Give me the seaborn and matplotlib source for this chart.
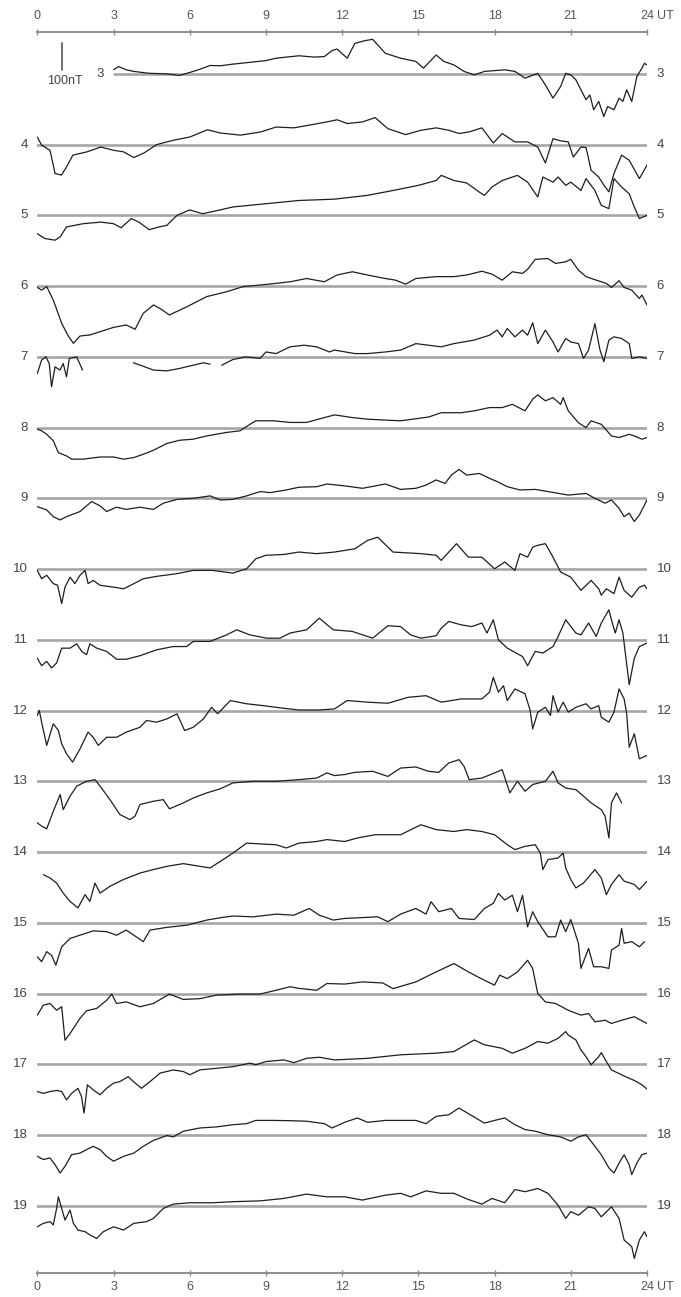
import numpy as np
import pandas as pd
import matplotlib
matplotlib.use("Agg")
import matplotlib.pyplot as plt
import seaborn as sns

nan = np.nan

# ---------------- data (deviation from daily baseline, nT; time in UT hours) ----------------
T3 = [3.0, 3.2, 3.5, 3.8, 4.4, 5.1, 5.6, 6.0, 6.4, 6.8, 7.2, 7.7, 8.4, 9.0, 9.4, 9.8, 10.3, 10.9, 11.3, 11.6,
      11.8, 12.2, 12.5, 12.9, 13.2, 13.7, 14.3, 14.9, 15.2, 15.7, 16.0, 16.4, 16.8, 17.2, 17.6, 18.4, 18.8, 19.2,
      19.7, 20.0, 20.3, 20.6, 20.8, 21.0, 21.2, 21.6, 21.75, 21.9, 22.1, 22.3, 22.45, 22.7, 22.9, 23.05, 23.2,
      23.4, 23.6, 23.8, 23.9, 24.0]
V3 = [15, 27, 15, 9, 2, 0, -6, 5, 17, 31, 30, 36, 43, 49, 58, 62, 67, 62, 64, 86,
      92, 58, 113, 123, 128, 76, 58, 46, 21, 70, 46, 33, 9, -4, 9, 15, 9, -16,
      2, -41, -90, -47, 2, -4, -22, -96, -78, -133, -102, -158, -121, -133, -90, -102, -59,
      -102, -10, 21, 39, 33]

T4 = [0, 0.17, 0.5, 0.7, 0.95, 1.15, 1.4, 1.95, 2.5, 3.0, 3.4, 3.8, 4.2, 4.7, 5.35, 6.0, 6.7, 7.2, 8.0, 8.8,
      9.4, 10.1, 10.7, 11.4, 11.8, 12.2, 12.8, 13.3, 13.8, 14.5, 15.1, 15.7, 16.2, 16.6, 17.0, 17.5, 17.95, 18.3,
      18.8, 19.3, 19.7, 20.0, 20.3, 20.6, 20.9, 21.1, 21.4, 21.6, 21.8, 22.1, 22.3, 22.5, 22.7, 23.0, 23.3, 23.7, 24.0]
V4 = [28, -2, -21, -107, -113, -83, -39, -27, -9, -21, -27, -48, -31, 0, 16, 28, 55, 43, 35, 47,
      65, 62, 72, 84, 92, 78, 84, 100, 59, 37, 53, 62, 53, 41, 47, 62, 6, 41,
      10, 10, -9, -68, 22, 14, 10, -46, -9, -11, -95, -120, -150, -175, -107, -39, -58, -126, -76]

T5 = [0, 0.3, 0.7, 0.9, 1.15, 1.8, 2.5, 3.0, 3.3, 3.7, 4.0, 4.4, 4.8, 5.1, 5.5, 6.0, 6.5, 7.1, 7.7, 9.0,
      10.3, 11.7, 13.0, 14.0, 15.0, 15.7, 15.9, 16.4, 16.9, 17.4, 17.6, 17.9, 18.3, 18.9, 19.3, 19.7, 19.9, 20.3,
      20.5, 20.8, 21.0, 21.4, 21.6, 21.95, 22.2, 22.5, 22.7, 23.0, 23.3, 23.5, 23.7, 24.0]
V5 = [-68, -86, -92, -80, -43, -31, -25, -31, -46, -12, -25, -53, -43, -37, 0, 20, 6, 18, 31, 43,
      55, 60, 74, 92, 111, 129, 148, 129, 120, 86, 74, 105, 129, 148, 123, 68, 142, 123,
      142, 111, 123, 92, 136, 92, 37, 25, 136, 105, 80, 31, -12, 0]

T6 = [0, 0.17, 0.37, 0.63, 0.96, 1.22, 1.42, 1.68, 2.07, 2.47, 3.0, 3.5, 3.85, 4.17, 4.57, 4.83, 5.2, 5.9, 6.67,
      7.45, 8.1, 8.77, 9.4, 9.95, 10.6, 11.3, 11.8, 12.4, 13.0, 13.7, 14.1, 14.5, 14.9, 15.7, 16.4, 16.9, 17.5,
      17.9, 18.3, 18.7, 19.1, 19.3, 19.6, 20.1, 20.4, 20.8, 21.0, 21.3, 21.6, 22.0, 22.4, 22.6, 22.9, 23.1, 23.4,
      23.7, 23.8, 24.0]
V6 = [-5, -15, -2, -52, -138, -185, -212, -185, -181, -169, -153, -144, -160, -101, -70, -83, -107, -76, -39,
      -21, -2, 4, 10, 16, 28, 16, 41, 53, 41, 28, 22, 7, 28, 35, 35, 41, 55,
      44, 22, 53, 47, 62, 99, 102, 84, 90, 99, 59, 35, 22, 10, -5, 20, -5, -15,
      -46, -33, -70]

T7 = [0, 0.17, 0.34, 0.47, 0.56, 0.7, 0.89, 1.02, 1.15, 1.26, 1.55, 1.78, nan,
      3.78, 4.17, 4.57, 5.1, 5.6, 6.14, 6.54, 6.8, nan,
      7.26, 7.7, 8.2, 8.77, 9.0, 9.4, 9.95, 10.5, 11.0, 11.5, 11.7, 12.5, 13.0, 13.7, 14.3, 14.9, 15.4, 15.9,
      16.4, 17.2, 17.8, 18.1, 18.3, 18.5, 18.8, 19.1, 19.3, 19.5, 19.7, 20.0, 20.3, 20.5, 20.8, 21.0, 21.3,
      21.5, 21.7, 21.95, 22.15, 22.3, 22.5, 22.7, 23.0, 23.3, 23.4, 23.7, 24.0]
V7 = [-62, -12, 0, -25, -111, -37, -49, -25, -74, -6, 0, -49, nan,
      -22, -35, -49, -52, -43, -31, -22, -27, nan,
      -31, -10, 0, -6, 18, 12, 37, 43, 37, 18, 25, 12, 12, 18, 25, 49, 43, 37,
      49, 62, 80, 99, 74, 105, 74, 99, 80, 126, 49, 99, 55, 18, 68, 55, 49,
      -6, 25, 123, 25, -18, 62, 74, 68, 49, -6, 0, -6]

T8 = [0, 0.17, 0.37, 0.63, 0.83, 1.15, 1.35, 1.8, 2.47, 3.0, 3.4, 3.8, 4.17, 4.57, 5.1, 5.6, 6.14, 6.67, 7.45,
      7.98, 8.37, 8.6, 9.3, 9.95, 10.6, 11.3, 11.7, 12.4, 13.0, 14.3, 15.4, 15.9, 16.7, 17.2, 17.8, 18.3, 18.7,
      19.2, 19.5, 19.7, 20.0, 20.3, 20.6, 20.7, 20.9, 21.3, 21.6, 21.8, 22.2, 22.6, 22.9, 23.3, 23.5, 23.8, 24.0]
V8 = [-6, -12, -25, -49, -93, -105, -117, -117, -109, -109, -117, -111, -99, -84, -59, -47, -43, -31, -18,
      -12, 12, 25, 25, 19, 19, 37, 47, 37, 31, 25, 39, 55, 55, 62, 74, 74, 86,
      62, 105, 121, 99, 111, 86, 111, 62, 18, 0, 25, 12, -31, -37, -25, -31, -43, -37]

T9 = [0, 0.37, 0.63, 0.9, 1.15, 1.68, 2.14, 2.47, 2.73, 3.12, 3.5, 4.04, 4.57, 4.96, 5.5, 6.14, 6.8, 7.2, 7.7,
      8.24, 8.77, 9.16, 9.8, 10.3, 11.0, 11.4, 12.1, 12.8, 13.7, 14.3, 14.9, 15.3, 15.7, 16.05, 16.3, 16.6, 16.9,
      17.4, 17.8, 18.1, 18.5, 19.0, 19.6, 20.1, 20.9, 21.6, 21.95, 22.35, 22.6, 22.9, 23.1, 23.3, 23.5, 23.7, 24.0]
V9 = [-31, -43, -68, -80, -68, -49, -12, -28, -49, -33, -41, -33, -41, -18, -4, 0, 9, -6, -4,
      9, 25, 21, 31, 41, 43, 53, 46, 37, 53, 33, 37, 49, 68, 55, 86, 107, 86,
      92, 74, 62, 43, 31, 33, 25, 12, 18, 0, -18, -6, -37, -68, -55, -86, -62, -6]

T10 = [0, 0.17, 0.37, 0.63, 0.8, 0.96, 1.09, 1.29, 1.48, 1.68, 1.88, 2.0, 2.2, 2.47, 3.0, 3.4, 3.8, 4.17, 4.7,
       5.5, 6.14, 6.9, 7.7, 8.24, 8.6, 9.0, 9.7, 10.3, 11.0, 11.7, 12.5, 13.0, 13.4, 14.0, 15.1, 15.7, 15.9, 16.2,
       16.5, 16.97, 17.5, 18.0, 18.4, 18.8, 19.0, 19.3, 19.5, 19.7, 20.0, 20.3, 20.6, 21.0, 21.4, 21.8, 22.1,
       22.2, 22.4, 22.7, 22.9, 23.1, 23.4, 23.7, 23.9, 24.0]
V10 = [-5, -36, -23, -54, -60, -128, -67, -30, -54, -23, -5, -54, -42, -60, -67, -73, -54, -36, -27,
       -17, -5, -5, -15, 1, 38, 51, 54, 63, 57, 63, 75, 106, 118, 63, 57, 51, 32, 63,
       94, 44, 44, 1, 26, -5, 57, 44, 81, 88, 94, 44, -11, -30, -79, -42, -73,
       -97, -73, -91, -30, -79, -104, -67, -60, -73]

T11 = [0, 0.17, 0.37, 0.56, 0.76, 0.96, 1.29, 1.55, 1.75, 1.94, 2.07, 2.34, 2.73, 3.12, 3.5, 4.04, 4.7, 5.35,
       5.88, 6.14, 6.8, 7.45, 7.85, 8.37, 9.03, 9.55, 9.95, 10.6, 11.1, 11.65, 12.4, 13.2, 13.8, 14.3, 14.7, 15.1,
       15.7, 15.9, 16.2, 16.7, 17.1, 17.5, 17.7, 17.95, 18.15, 18.5, 19.1, 19.3, 19.6, 19.9, 20.3, 20.5, 20.8,
       21.2, 21.4, 21.7, 22.0, 22.2, 22.5, 22.6, 22.75, 22.9, 23.05, 23.3, 23.5, 23.7, 24.0]
V11 = [-68, -96, -80, -104, -86, -31, -31, -15, -43, -55, -15, -31, -43, -72, -72, -59, -37, -25,
       -25, -6, -6, 18, 37, 18, 6, 6, 25, 37, 80, 37, 31, 6, 52, 49, 18, 6,
       15, 43, 68, 55, 49, 62, 25, 74, 0, -31, -62, -96, -43, -49, -25, 12, 74,
       25, 18, 62, 12, 62, 111, 74, 25, 74, 25, -166, -68, -25, -12]

T12 = [0, 0.08, 0.17, 0.37, 0.63, 0.83, 0.96, 1.15, 1.39, 1.68, 2.0, 2.2, 2.4, 2.73, 3.12, 3.5, 4.04, 4.3, 4.7,
       5.1, 5.5, 5.65, 5.8, 6.14, 6.54, 6.86, 7.1, 7.6, 8.24, 8.9, 9.55, 10.3, 11.1, 11.7, 12.2, 13.0, 13.8, 14.6,
       15.3, 15.9, 16.7, 17.5, 17.8, 17.95, 18.15, 18.35, 18.5, 18.8, 19.2, 19.4, 19.5, 19.7, 20.0, 20.2, 20.3,
       20.5, 20.7, 20.9, 21.2, 21.6, 21.8, 22.1, 22.2, 22.5, 22.7, 22.9, 23.1, 23.2, 23.3, 23.5, 23.7, 24.0]
V12 = [-18, 0, -43, -129, -49, -74, -123, -160, -191, -142, -80, -99, -129, -99, -99, -80, -62, -37, -43,
       -31, -12, -43, -74, -62, -31, 12, -12, 37, 25, 18, 10, 2, 2, 6, 37, 31, 27, 49,
       55, 31, 43, 43, 68, 123, 68, 92, 37, 80, 62, 0, -68, -6, 12, -18, 55,
       -6, 31, -6, 12, 25, 6, 18, -25, -43, -6, 80, 43, -12, -136, -86, -179, -166]

T13 = [0, 0.17, 0.37, 0.63, 0.9, 1.02, 1.29, 1.55, 1.94, 2.27, 2.47, 2.86, 3.25, 3.65, 3.85, 4.04, 4.57, 4.96,
       5.2, 5.75, 6.14, 6.67, 7.2, 7.7, 8.5, 9.4, 10.3, 11.0, 11.4, 11.7, 12.1, 12.5, 13.2, 13.8, 14.3, 14.9, 15.4,
       15.8, 16.2, 16.6, 16.8, 17.0, 17.5, 18.0, 18.3, 18.6, 18.9, 19.2, 19.5, 20.0, 20.3, 20.5, 20.8, 21.2, 21.5,
       21.8, 22.2, 22.35, 22.5, 22.6, 22.8, 23.0]
V13 = [-154, -166, -176, -111, -49, -105, -55, -18, 0, 6, -18, -68, -123, -142, -129, -86, -74, -68,
       -102, -80, -62, -43, -28, -6, 0, 0, 6, 12, 31, 21, 25, 33, 37, 18, 49, 53, 37,
       33, 68, 80, 55, 6, 12, 31, 43, -43, 0, -37, -12, 0, 37, -6, -25, -31, -55,
       -80, -105, -129, -210, -80, -43, -80]

T14 = [0.24, 0.5, 0.76, 1.02, 1.29, 1.6, 1.88, 2.07, 2.27, 2.47, 2.86, 3.39, 4.04, 4.57, 5.1, 5.75, 6.4, 6.8,
       7.2, 7.7, 8.24, 8.77, 9.4, 9.8, 10.3, 11.0, 11.4, 12.1, 12.6, 13.3, 14.3, 15.1, 15.7, 16.4, 16.9, 17.5,
       18.0, 18.5, 18.8, 19.2, 19.6, 19.8, 19.9, 20.1, 20.5, 20.7, 20.8, 21.0, 21.2, 21.5, 21.95, 22.2, 22.4,
       22.6, 22.9, 23.1, 23.5, 23.7, 24.0]
V14 = [-84, -96, -115, -152, -183, -207, -158, -183, -115, -152, -127, -102, -78, -65, -53, -43, -53, -59,
       -35, -4, 33, 30, 27, 15, 33, 39, 46, 39, 52, 64, 64, 101, 83, 76, 83, 76,
       64, 27, 9, 21, 27, -4, -65, -28, -22, -4, -59, -102, -133, -115, -65, -96, -158,
       -120, -84, -108, -120, -139, -108]

T15 = [0, 0.17, 0.37, 0.56, 0.73, 0.96, 1.29, 1.68, 2.2, 2.73, 3.12, 3.5, 3.8, 4.17, 4.44, 5.1, 5.88, 6.67,
       7.3, 7.7, 8.5, 9.4, 10.1, 10.7, 11.1, 11.65, 12.1, 13.4, 13.8, 14.3, 14.9, 15.3, 15.5, 15.8, 16.3, 16.6,
       17.2, 17.6, 17.95, 18.15, 18.4, 18.7, 18.9, 19.1, 19.3, 19.5, 19.7, 20.1, 20.4, 20.6, 20.8, 21.0, 21.3,
       21.4, 21.7, 21.9, 22.2, 22.5, 22.6, 22.9, 23.0, 23.1, 23.4, 23.7, 23.9]
V15 = [-126, -144, -107, -120, -157, -89, -58, -46, -30, -33, -46, -27, -46, -70, -27, -17, -9, 10,
       20, 25, 22, 32, 28, 53, 28, 10, 16, 22, 4, 32, 53, 32, 78, 41, 53, 16,
       12, 53, 72, 109, 84, 102, 41, 102, -15, 41, 4, -52, -52, 10, -33, 12, -76,
       -169, -95, -163, -163, -169, -101, -83, -21, -76, -70, -89, -70]

T16 = [0, 0.24, 0.5, 0.76, 0.96, 1.09, 1.29, 1.68, 1.94, 2.34, 2.73, 2.93, 3.12, 3.5, 4.04, 4.57, 5.2, 5.75,
       6.4, 7.06, 7.98, 8.77, 9.4, 9.95, 10.3, 11.0, 11.4, 12.1, 12.8, 13.6, 14.0, 14.9, 15.7, 16.4, 16.97, 17.6,
       18.0, 18.2, 18.5, 18.9, 19.3, 19.5, 19.7, 20.0, 20.4, 20.9, 21.4, 21.7, 21.95, 22.35, 22.6, 23.0, 23.5, 24.0]
V16 = [-80, -43, -37, -62, -49, -173, -148, -92, -64, -55, -25, -2, -37, -31, -49, -37, -2, -22,
       -19, -6, -2, -2, 12, 25, 19, 12, 37, 35, 43, 39, 18, 43, 80, 111, 80, 49,
       31, 68, 55, 80, 123, 92, 0, -31, -37, -62, -80, -74, -105, -99, -111, -99, -86, -111]

T17 = [0, 0.24, 0.5, 0.76, 0.96, 1.15, 1.35, 1.6, 1.74, 1.84, 1.97, 2.2, 2.47, 2.73, 3.0, 3.25, 3.58, 3.78,
       4.1, 4.44, 4.83, 5.35, 5.75, 6.0, 6.4, 7.06, 7.7, 8.37, 8.6, 9.0, 9.7, 10.1, 10.6, 11.1, 11.7, 13.0, 14.3,
       15.7, 16.4, 17.2, 17.6, 18.3, 18.7, 19.2, 19.7, 20.1, 20.5, 20.8, 20.9, 21.2, 21.4, 21.6, 21.8, 22.1, 22.2,
       22.4, 22.6, 23.0, 23.3, 23.5, 23.8, 24.0]
V17 = [-101, -108, -101, -97, -101, -132, -108, -89, -120, -181, -76, -95, -113, -89, -70, -64, -46, -64,
       -89, -64, -33, -21, -27, -39, -21, -15, -9, 4, -2, 10, 16, 6, 22, 26, 16, 22, 35,
       41, 47, 90, 72, 59, 41, 59, 84, 78, 96, 121, 108, 90, 53, 28, -2, 28, 43,
       10, -21, -39, -52, -60, -76, -92]

T18 = [0, 0.24, 0.5, 0.7, 0.9, 1.09, 1.35, 1.68, 1.94, 2.2, 2.47, 2.73, 3.0, 3.4, 3.8, 4.17, 4.57, 5.1, 5.35,
       5.75, 6.4, 7.06, 7.7, 8.24, 8.6, 9.3, 9.95, 10.6, 11.3, 11.6, 12.1, 12.6, 13.0, 13.7, 14.3, 14.9, 15.3,
       15.7, 16.2, 16.6, 16.97, 17.6, 18.0, 18.4, 18.8, 19.2, 19.6, 20.1, 20.6, 21.0, 21.3, 21.6, 21.95, 22.2,
       22.5, 22.7, 22.9, 23.1, 23.3, 23.4, 23.6, 23.8, 24.0]
V18 = [-79, -91, -85, -110, -141, -116, -73, -67, -54, -42, -54, -79, -97, -79, -67, -42, -20, -2, -7,
       14, 26, 30, 38, 42, 54, 54, 53, 51, 42, 26, 47, 63, 47, 54, 54, 54, 42,
       69, 75, 100, 79, 44, 54, 63, 38, 20, 14, 1, -7, -23, -7, 1, -42, -73,
       -122, -141, -104, -73, -110, -147, -104, -73, -67]

T19 = [0, 0.24, 0.5, 0.63, 0.76, 0.83, 0.96, 1.09, 1.29, 1.42, 1.6, 1.88, 2.07, 2.34, 2.6, 3.0, 3.4, 3.8, 4.3,
       4.57, 4.96, 5.35, 6.0, 6.9, 7.7, 8.77, 9.7, 10.6, 11.4, 12.1, 12.8, 13.7, 14.3, 14.7, 15.3, 15.9, 16.4,
       16.97, 17.5, 17.9, 18.4, 18.8, 19.2, 19.7, 20.1, 20.5, 20.8, 21.0, 21.3, 21.7, 21.95, 22.2, 22.6, 22.9,
       23.1, 23.4, 23.5, 23.7, 23.9, 24.0]
V19 = [-78, -65, -59, -71, -10, 33, -10, -53, -16, -65, -90, -96, -108, -121, -96, -78, -90, -65, -59,
       -47, -10, 6, 11, 11, 15, 18, 27, 43, 33, 33, 21, 39, 46, 33, 55, 46, 46,
       23, 6, 27, 11, 60, 52, 64, 46, 2, -47, -22, -35, -4, -10, -41, -4, -47,
       -127, -152, -195, -127, -96, -115]

DAYS = list(range(3, 20))
TIMES = [T3, T4, T5, T6, T7, T8, T9, T10, T11, T12, T13, T14, T15, T16, T17, T18, T19]
VALUES = [V3, V4, V5, V6, V7, V8, V9, V10, V11, V12, V13, V14, V15, V16, V17, V18, V19]
BASE_START = [3] + [0] * 16          # baseline of day 3 starts at 03 UT
HOUR_TICKS = [0, 3, 6, 9, 12, 15, 18, 21, 24]
SCALE_NT = 100

# ---------------- layout ----------------
SPACING = 262.0       # nT between daily baselines
W, H = 681, 1297
sns.set_theme(style="white")
plt.rcParams["font.family"] = ["Liberation Sans", "DejaVu Sans"]

fig = plt.figure(figsize=(W / 100, H / 100), dpi=100)
ax = fig.add_axes([37.3 / W, (H - 1272.7) / H, 609.7 / W, 1240.7 / H])

rows = []
seg = 0
for d, ts, vs in zip(DAYS, TIMES, VALUES):
    off = -(d - 3) * SPACING
    for t, v in zip(ts, vs):
        if np.isnan(t):
            seg += 1
            continue
        rows.append({"day": d, "seg": seg, "hour": t, "y": v + off})
    seg += 1
df = pd.DataFrame(rows)

base_df = pd.DataFrame({
    "seg": np.repeat(np.arange(len(DAYS)), 2),
    "hour": np.ravel([[s, 24] for s in BASE_START]),
    "y": np.repeat([-(d - 3) * SPACING for d in DAYS], 2),
})

sns.lineplot(data=base_df, x="hour", y="y", units="seg", estimator=None, sort=False,
             color="#a6a6a6", linewidth=1.9, ax=ax, legend=False, zorder=1)
sns.lineplot(data=df, x="hour", y="y", units="seg", estimator=None, sort=False,
             color="#1e1e1e", linewidth=0.9, ax=ax, legend=False, zorder=2)

ax.set_xlim(0, 24)
ax.set_ylim(-16 * SPACING - 248, 155)
ax.set_xlabel("")
ax.set_ylabel("")
ax.set_yticks([])
for s in ["left", "right", "top"]:
    ax.spines[s].set_visible(False)
ax.spines["bottom"].set_color("#8c8c8c")
ax.spines["bottom"].set_linewidth(1.4)

ax.set_xticks(HOUR_TICKS)
ax.set_xticklabels([str(h) for h in HOUR_TICKS])
ax.tick_params(axis="x", bottom=True, direction="inout", length=4, width=1, color="#8c8c8c",
               labelsize=9, labelcolor="#555555", pad=4)

top = ax.secondary_xaxis("top")
top.set_xticks(HOUR_TICKS)
top.set_xticklabels([str(h) for h in HOUR_TICKS])
top.tick_params(axis="x", direction="inout", length=4, width=1, color="#8c8c8c",
                labelsize=9, labelcolor="#555555", pad=5.5)
top.spines["top"].set_color("#8c8c8c")
top.spines["top"].set_linewidth(1.4)

ax.annotate("UT", xy=(24, 1), xycoords=("data", "axes fraction"), xytext=(7, 7.5),
            textcoords="offset points", ha="left", va="bottom", fontsize=9, color="#555555")
ax.annotate("UT", xy=(24, 0), xycoords=("data", "axes fraction"), xytext=(7, -6),
            textcoords="offset points", ha="left", va="top", fontsize=9, color="#555555")

# day labels
for d, s in zip(DAYS, BASE_START):
    yb = -(d - 3) * SPACING
    ax.annotate(str(d), xy=(s, yb), xytext=(-7, 0), textcoords="offset points",
                ha="right", va="center", fontsize=9.5, color="#444444", annotation_clip=False)
    ax.annotate(str(d), xy=(24, yb), xytext=(7, 0), textcoords="offset points",
                ha="left", va="center", fontsize=9.5, color="#444444", annotation_clip=False)

# scale bar
ax.plot([0.97, 0.97], [15, 15 + SCALE_NT], color="#555555", linewidth=1.2, zorder=3)
ax.text(1.09, -28, f"{SCALE_NT}nT", ha="center", va="center", fontsize=9, color="#444444")

fig.savefig("out.png", dpi=100)
